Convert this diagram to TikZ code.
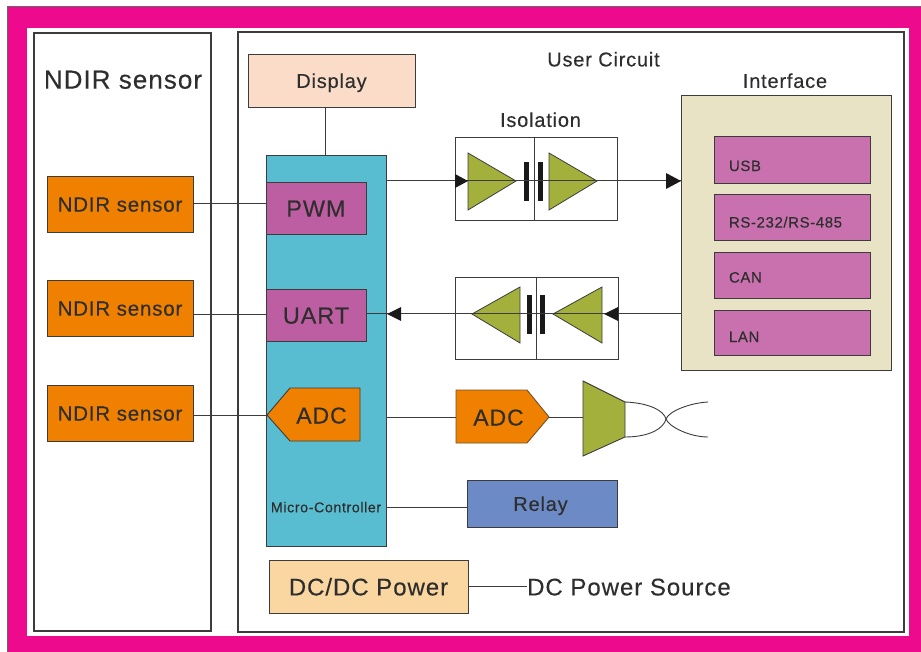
\documentclass[tikz,border=0pt]{standalone}
\usepackage{fontspec}
\setmainfont[LetterSpace=4,FakeBold=0.25]{Liberation Sans}
\usetikzlibrary{arrows.meta}
\definecolor{pinkc}{HTML}{EE0A8C}
\definecolor{linec}{HTML}{3C3C3C}
\definecolor{mcuc}{HTML}{58BDD0}
\definecolor{orangec}{HTML}{F08000}
\definecolor{purplec}{HTML}{BE5EA2}
\definecolor{itemc}{HTML}{C971AF}
\definecolor{greenc}{HTML}{A3B03C}
\definecolor{peachc}{HTML}{FBDCC9}
\definecolor{ifacec}{HTML}{E9E3C5}
\definecolor{relayc}{HTML}{6C8AC6}
\definecolor{dcc}{HTML}{FAD6A0}
\definecolor{textc}{HTML}{2E2E2E}
\newcommand\tx[2]{\fontsize{#1}{#1}\selectfont\raisebox{-.37em}[0pt][0pt]{#2}}
\tikzset{
  panel/.style={draw=linec,line width=1.1pt,fill=white,rectangle},
  blk/.style={draw=linec,line width=.9pt,rectangle,inner sep=0pt,text=textc},
  lbl/.style={inner sep=0pt,text=textc},
  wire/.style={draw=linec,line width=1pt},
  amp/.style={draw=linec,line width=.8pt,fill=greenc},
  plate/.style={fill=black!90,draw=none},
  head/.style={fill=black!90,draw=none}
}
\begin{document}
\begin{tikzpicture}[x=1pt,y=-1pt]
\path[use as bounding box] (0,0) rectangle (921,652);
% frame
\fill[white] (0,0) rectangle (921,652);
\fill[pinkc] (7,7) rectangle (921,652);
\draw[black!60,line width=1pt] (7,652) -- (7,7) -- (921,7);
\fill[white] (27,28) rectangle (909,636);
% panels
\node[panel,minimum width=177pt,minimum height=598pt] (left) at (122.5,332) {};
\node[panel,minimum width=666pt,minimum height=600pt] (right) at (571,332) {};
% titles
\node[lbl] (t1) at (123,79) {\tx{26}{NDIR sensor}};
\node[lbl] (t2) at (603.5,59) {\tx{20}{User Circuit}};
\node[lbl] (t3) at (785,80.5) {\tx{20}{Interface}};
\node[lbl] (t4) at (540.5,119.5) {\tx{20}{Isolation}};
% sensors
\node[blk,fill=orangec,minimum width=146pt,minimum height=56pt] (s1) at (120,204) {\tx{20.5}{NDIR sensor}};
\node[blk,fill=orangec,minimum width=146pt,minimum height=56pt] (s2) at (120,308) {\tx{20.5}{NDIR sensor}};
\node[blk,fill=orangec,minimum width=146pt,minimum height=56pt] (s3) at (120,413) {\tx{20.5}{NDIR sensor}};
% display + mcu
\node[blk,fill=peachc,minimum width=167pt,minimum height=53pt] (disp) at (331.5,80.5) {\tx{20}{Display}};
\node[blk,fill=mcuc,minimum width=120pt,minimum height=391pt] (mcu) at (326,350.5) {};
\node[blk,fill=purplec,minimum width=100pt,minimum height=52pt] (pwm) at (316,208) {\tx{23.5}{PWM}};
\node[blk,fill=purplec,minimum width=100pt,minimum height=52pt] (uart) at (316,315) {\tx{23.5}{UART}};
\coordinate (tipa) at (267,415);
\filldraw[fill=orangec,draw=linec,line width=.9pt] (tipa) -- (290,388) -- (360,388) -- (360,441) -- (290,441) -- cycle;
\node[lbl] (adca) at (321.5,415) {\tx{23}{ADC}};
\node[lbl] (mc) at (326,507) {\tx{14.3}{Micro-Controller}};
% isolation boxes
\node[blk,fill=white,minimum width=162pt,minimum height=83pt] (iso1) at (536,178.5) {};
\node[blk,fill=white,minimum width=163pt,minimum height=82pt] (iso2) at (536.5,318) {};
\coordinate (d1) at (534,137); \coordinate (d2) at (534,220);
\coordinate (d3) at (536,277); \coordinate (d4) at (536,359);
\draw[wire] (d1) -- (d2);
\draw[wire] (d3) -- (d4);
% amplifiers
\filldraw[amp] (468,153) -- (468,210) -- (516,181) -- cycle;
\filldraw[amp] (549,153) -- (549,210) -- (597,181) -- cycle;
\filldraw[amp] (520,287) -- (520,343) -- (472,314) -- cycle;
\filldraw[amp] (602,287) -- (602,343) -- (553,314) -- cycle;
\fill[plate] (524,162) rectangle (529,201);
\fill[plate] (538,162) rectangle (543,201);
\fill[plate] (527,295) rectangle (532,334);
\fill[plate] (540,295) rectangle (545,334);
% interface
\node[blk,fill=ifacec,minimum width=210pt,minimum height=275pt] (iface) at (786,232.5) {};
\node[blk,fill=itemc,minimum width=156pt,minimum height=47pt,inner xsep=15pt,text width=126pt,align=left] (usb) at (792,159.5) {\tx{15}{\raisebox{-6pt}{USB}}};
\node[blk,fill=itemc,minimum width=156pt,minimum height=46pt,inner xsep=15pt,text width=126pt,align=left] (rs) at (792,217) {\tx{15}{\raisebox{-5pt}{RS-232/RS-485}}};
\node[blk,fill=itemc,minimum width=156pt,minimum height=46pt,inner xsep=15pt,text width=126pt,align=left] (can) at (792,275) {\tx{15}{\raisebox{-2pt}{CAN}}};
\node[blk,fill=itemc,minimum width=156pt,minimum height=45pt,inner xsep=15pt,text width=126pt,align=left] (lan) at (792,332.5) {\tx{15}{\raisebox{-4pt}{LAN}}};
% external adc + mux
\coordinate (tipb) at (549,417);
\filldraw[fill=orangec,draw=linec!70!orangec,line width=.9pt] (456,390) -- (527,390) -- (tipb) -- (527,443) -- (456,443) -- cycle;
\node[lbl] (adcb) at (498.5,417) {\tx{23}{ADC}};
\coordinate (muxin) at (583,417);
\coordinate (ua) at (625,402); \coordinate (ub) at (625,437);
\coordinate (cross) at (666,419);
\coordinate (oa) at (708,402); \coordinate (ob) at (708,437);
\filldraw[amp,line width=.9pt] (583,381) -- (ua) -- (ub) -- (583,456) -- cycle;
\draw[wire,line width=.9pt] (ua) .. controls (650,403) and (664,411) .. (cross) .. controls (669,427) and (690,437) .. (ob);
\draw[wire,line width=.9pt] (ub) .. controls (650,437) and (664,428) .. (cross) .. controls (669,411) and (690,403) .. (oa);
% relay, dc
\node[blk,fill=relayc,minimum width=150pt,minimum height=47pt] (relay) at (542,503.5) {\hspace*{-3pt}\tx{20}{Relay}};
\node[blk,fill=dcc,minimum width=199pt,minimum height=53pt] (dc) at (368.5,586.5) {\tx{24}{DC/DC Power}};
\node[lbl,anchor=west] (src) at (527,586.5) {\tx{24}{DC Power Source}};
% connectors
\draw[wire] (disp.south -| 325,0) -- (mcu.north -| 325,0);
\coordinate (y0) at (0,203.5);
\draw[wire] (s1.east |- y0) -- (pwm.west |- y0);
\draw[wire] (s2.east |- uart.west) -- (uart.west);
\draw[wire] (s3.east |- tipa) -- (tipa);
\coordinate (y1) at (0,181); \coordinate (y2) at (0,314);
\draw[wire] (mcu.east |- y1) -- (iface.west |- y1);
\draw[wire] (iface.west |- y2) -- (uart.east |- y2);
\draw[wire] (mcu.east |- tipb) -- (456,417);
\draw[wire] (tipb) -- (muxin);
\draw[wire] (mcu.east |- mc) -- (relay.west |- mc);
\draw[wire] (dc.east) -- (src.west |- dc.east);
% arrowheads
\fill[head] (455,174) -- (468,181) -- (455,188) -- cycle;
\fill[head] (666,173) -- (681,181) -- (666,189) -- cycle;
\fill[head] (618,307) -- (604,314) -- (618,321) -- cycle;
\fill[head] (401,307) -- (387,314) -- (401,321) -- cycle;
\end{tikzpicture}
\end{document}
